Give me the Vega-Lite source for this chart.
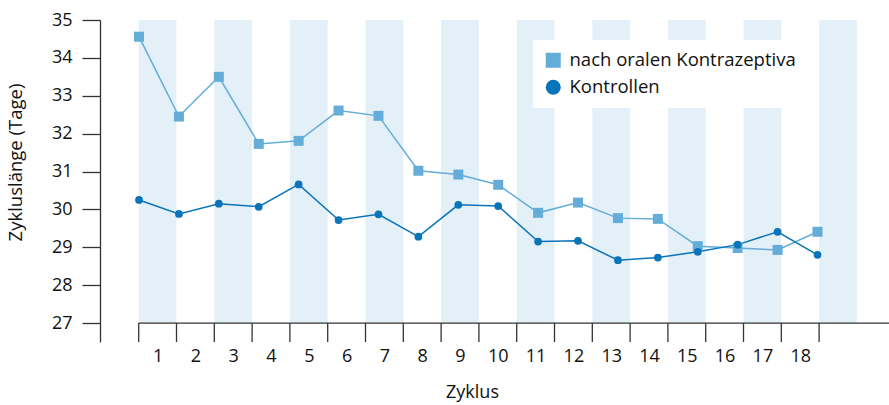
{
  "$schema": "https://vega.github.io/schema/vega-lite/v6.json",
  "width": 789,
  "height": 322,
  "autosize": "none",
  "padding": {"left": 100, "top": 20, "right": 0, "bottom": 63},
  "config": {
    "view": {"stroke": null},
    "font": "Open Sans",
    "axis": {"labelFont": "Open Sans", "titleFont": "Open Sans", "labelColor": "#111111", "titleColor": "#111111", "titleFontWeight": "normal", "domainColor": "#333333", "tickColor": "#333333", "domainWidth": 1.3, "tickWidth": 1.3, "grid": false},
    "legend": {"labelFont": "Open Sans"}
  },
  "layer": [
    {
      "layer": [
        {
          "data": {"values": [
            {"s": 0.5, "e": 1.5}, {"s": 2.5, "e": 3.5}, {"s": 4.5, "e": 5.5}, {"s": 6.5, "e": 7.5},
            {"s": 8.5, "e": 9.5}, {"s": 10.5, "e": 11.5}, {"s": 12.5, "e": 13.5}, {"s": 14.5, "e": 15.5},
            {"s": 16.5, "e": 17.5}, {"s": 18.5, "e": 19.5}
          ]},
          "mark": {"type": "rect", "color": "#e4f0f8"},
          "encoding": {
            "x": {"field": "s", "type": "quantitative", "title": "Zyklus",
                  "scale": {"domain": [-0.524, 20.349], "nice": false, "zero": false},
                  "axis": {"values": [1,2,3,4,5,6,7,8,9,10,11,12,13,14,15,16,17,18], "domain": false, "ticks": false, "labelFontSize": 18, "labelPadding": 5, "titleFontSize": 18, "titlePadding": 18, "titleX": 372, "format": "d"}},
            "x2": {"field": "e"},
            "y": {"datum": 35, "type": "quantitative", "title": "Zykluslänge (Tage)",
                  "scale": {"domain": [26.5, 35], "nice": false, "zero": false},
                  "axis": {"values": [27,28,29,30,31,32,33,34,35], "tickSize": 18, "labelPadding": 10, "labelFontSize": 18, "titleFontSize": 18.5, "titleX": -79, "titleY": 142, "titleBaseline": "alphabetic"}},
            "y2": {"datum": 27}
          }
        },
        {
          "data": {"values": [
            {"s": 0.5}, {"s": 1.5}, {"s": 2.5}, {"s": 3.5}, {"s": 4.5}, {"s": 5.5}, {"s": 6.5}, {"s": 7.5},
            {"s": 8.5}, {"s": 9.5}, {"s": 10.5}, {"s": 11.5}, {"s": 12.5}, {"s": 13.5}, {"s": 14.5},
            {"s": 15.5}, {"s": 16.5}, {"s": 17.5}, {"s": 18.5}
          ]},
          "mark": {"type": "rule", "color": "#333333", "strokeWidth": 1.3},
          "encoding": {
            "x": {"field": "s", "type": "quantitative", "title": "Zyklus"},
            "y": {"datum": 27, "type": "quantitative", "title": "Zykluslänge (Tage)"},
            "y2": {"datum": 26.5}
          }
        },
        {
          "data": {"values": [{"s": 0.5, "e": 20.349}]},
          "mark": {"type": "rule", "color": "#333333", "strokeWidth": 1.3},
          "encoding": {
            "x": {"field": "s", "type": "quantitative", "title": "Zyklus"},
            "x2": {"field": "e"},
            "y": {"datum": 27, "type": "quantitative", "title": "Zykluslänge (Tage)"}
          }
        }
      ]
    },
    {
      "data": {"values": [
        {"Zyklus": 1, "Gruppe": "nach oralen Kontrazeptiva", "Tage": 34.56},
        {"Zyklus": 2, "Gruppe": "nach oralen Kontrazeptiva", "Tage": 32.45},
        {"Zyklus": 3, "Gruppe": "nach oralen Kontrazeptiva", "Tage": 33.50},
        {"Zyklus": 4, "Gruppe": "nach oralen Kontrazeptiva", "Tage": 31.73},
        {"Zyklus": 5, "Gruppe": "nach oralen Kontrazeptiva", "Tage": 31.81},
        {"Zyklus": 6, "Gruppe": "nach oralen Kontrazeptiva", "Tage": 32.61},
        {"Zyklus": 7, "Gruppe": "nach oralen Kontrazeptiva", "Tage": 32.47},
        {"Zyklus": 8, "Gruppe": "nach oralen Kontrazeptiva", "Tage": 31.02},
        {"Zyklus": 9, "Gruppe": "nach oralen Kontrazeptiva", "Tage": 30.92},
        {"Zyklus": 10, "Gruppe": "nach oralen Kontrazeptiva", "Tage": 30.65},
        {"Zyklus": 11, "Gruppe": "nach oralen Kontrazeptiva", "Tage": 29.91},
        {"Zyklus": 12, "Gruppe": "nach oralen Kontrazeptiva", "Tage": 30.18},
        {"Zyklus": 13, "Gruppe": "nach oralen Kontrazeptiva", "Tage": 29.77},
        {"Zyklus": 14, "Gruppe": "nach oralen Kontrazeptiva", "Tage": 29.75},
        {"Zyklus": 15, "Gruppe": "nach oralen Kontrazeptiva", "Tage": 29.03},
        {"Zyklus": 16, "Gruppe": "nach oralen Kontrazeptiva", "Tage": 28.98},
        {"Zyklus": 17, "Gruppe": "nach oralen Kontrazeptiva", "Tage": 28.93},
        {"Zyklus": 18, "Gruppe": "nach oralen Kontrazeptiva", "Tage": 29.41},
        {"Zyklus": 1, "Gruppe": "Kontrollen", "Tage": 30.25},
        {"Zyklus": 2, "Gruppe": "Kontrollen", "Tage": 29.88},
        {"Zyklus": 3, "Gruppe": "Kontrollen", "Tage": 30.15},
        {"Zyklus": 4, "Gruppe": "Kontrollen", "Tage": 30.07},
        {"Zyklus": 5, "Gruppe": "Kontrollen", "Tage": 30.66},
        {"Zyklus": 6, "Gruppe": "Kontrollen", "Tage": 29.72},
        {"Zyklus": 7, "Gruppe": "Kontrollen", "Tage": 29.87},
        {"Zyklus": 8, "Gruppe": "Kontrollen", "Tage": 29.28},
        {"Zyklus": 9, "Gruppe": "Kontrollen", "Tage": 30.12},
        {"Zyklus": 10, "Gruppe": "Kontrollen", "Tage": 30.09},
        {"Zyklus": 11, "Gruppe": "Kontrollen", "Tage": 29.15},
        {"Zyklus": 12, "Gruppe": "Kontrollen", "Tage": 29.17},
        {"Zyklus": 13, "Gruppe": "Kontrollen", "Tage": 28.66},
        {"Zyklus": 14, "Gruppe": "Kontrollen", "Tage": 28.73},
        {"Zyklus": 15, "Gruppe": "Kontrollen", "Tage": 28.88},
        {"Zyklus": 16, "Gruppe": "Kontrollen", "Tage": 29.07},
        {"Zyklus": 17, "Gruppe": "Kontrollen", "Tage": 29.41},
        {"Zyklus": 18, "Gruppe": "Kontrollen", "Tage": 28.80}
      ]},
      "encoding": {
        "x": {"field": "Zyklus", "type": "quantitative", "scale": {"domain": [1, 18], "range": [39, 717.5], "nice": false, "zero": false}, "axis": null},
        "y": {"field": "Tage", "type": "quantitative", "title": "Zykluslänge (Tage)"},
        "color": {"field": "Gruppe", "type": "nominal",
                  "scale": {"domain": ["nach oralen Kontrazeptiva", "Kontrollen"], "range": ["#64add9", "#0a74bb"]},
                  "legend": {"orient": "none", "legendX": 433, "legendY": 20, "title": null, "fillColor": "white", "padding": 11, "symbolSize": 225, "labelFontSize": 18.5, "labelLimit": 400, "labelColor": "#111111", "rowPadding": 8, "labelOffset": 7, "symbolStrokeWidth": 0, "symbolOpacity": 1}},
        "shape": {"field": "Gruppe", "type": "nominal",
                  "scale": {"domain": ["nach oralen Kontrazeptiva", "Kontrollen"], "range": ["square", "circle"]}}
      },
      "layer": [
        {
          "mark": {"type": "line", "strokeWidth": 1.5}
        },
        {
          "transform": [{"filter": "datum.Gruppe === 'nach oralen Kontrazeptiva'"}],
          "mark": {"type": "point", "filled": true, "opacity": 1, "size": 100}
        },
        {
          "transform": [{"filter": "datum.Gruppe === 'Kontrollen'"}],
          "mark": {"type": "point", "filled": true, "opacity": 1, "size": 60}
        }
      ]
    }
  ],
  "resolve": {"scale": {"x": "independent"}}
}
